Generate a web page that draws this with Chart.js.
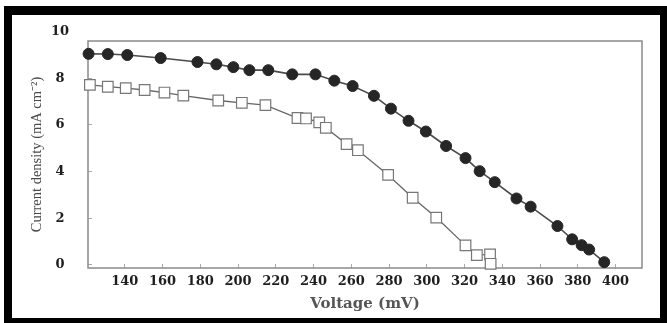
<!DOCTYPE html>
<html><head><meta charset="utf-8">
<script src="https://cdn.jsdelivr.net/npm/chart.js@4/dist/chart.umd.min.js"></script>
<style>
html,body{margin:0;padding:0;background:#fff;}
#wrap{position:relative;width:667px;height:323px;overflow:hidden;background:#fff;}
#c{position:absolute;left:0;top:0;}
#frame{position:absolute;left:4px;top:6px;width:663px;height:317px;box-sizing:border-box;border-style:solid;border-color:#000;border-width:9px 7px 5px 8px;pointer-events:none;}
</style></head><body>
<div id="wrap"><canvas id="c" width="667" height="323"></canvas><div id="frame"></div></div>
<script>
// Filled circles series
const voltageFilled = [120.8,131,141.3,159,178.5,188.5,197.5,206,216,228.7,241,251,260.7,272,281,290.3,299.5,310.2,320.5,328,336,347.5,355,369.2,377,382,386,394];
const currentFilled = [9.05,9.04,9.0,8.87,8.7,8.6,8.48,8.35,8.35,8.17,8.17,7.9,7.67,7.25,6.7,6.18,5.72,5.1,4.58,4.02,3.55,2.85,2.5,1.67,1.1,0.85,0.66,0.12];
// Open squares series
const voltageOpen = [121.5,131,140.5,150.5,161,171,189.5,202,214.5,231.5,236,243,246.5,257.5,263.5,279.5,292.5,305,320.5,326.5,333.5,333.8];
const currentOpen = [7.72,7.64,7.58,7.5,7.39,7.26,7.05,6.95,6.85,6.3,6.28,6.11,5.88,5.18,4.92,3.86,2.88,2.03,0.84,0.42,0.45,0.05];
// Tick labels
const xTicks = [140,160,180,200,220,240,260,280,300,320,340,360,380,400];
const yTicks = [0,2,4,6,8,10];

const framePlugin = {
  id: 'frameBox',
  beforeDatasetsDraw(chart) {
    const {ctx, chartArea: a} = chart;
    ctx.save();
    ctx.strokeStyle = '#8a8a8a';
    ctx.lineWidth = 1.5;
    ctx.strokeRect(a.left, a.top, a.right - a.left, a.bottom - a.top);
    ctx.restore();
  }
};

const tickFont = {family: 'DejaVu Serif', weight: 'bold', size: 13};

new Chart(document.getElementById('c'), {
  type: 'line',
  data: {
    datasets: [
      {
        label: 'filled',
        data: voltageFilled.map((x, i) => ({x: x, y: currentFilled[i]})),
        borderColor: '#4a4a4a',
        borderWidth: 1.6,
        pointStyle: 'circle',
        pointRadius: 5.5,
        pointBackgroundColor: '#262626',
        pointBorderColor: '#262626',
        pointBorderWidth: 1,
        tension: 0,
        clip: false
      },
      {
        label: 'open',
        data: voltageOpen.map((x, i) => ({x: x, y: currentOpen[i]})),
        borderColor: '#666',
        borderWidth: 1.3,
        pointStyle: 'rect',
        pointRadius: 7.5,
        pointBackgroundColor: '#fff',
        pointBorderColor: '#777',
        pointBorderWidth: 1.2,
        tension: 0,
        clip: false
      }
    ]
  },
  options: {
    responsive: false,
    animation: false,
    devicePixelRatio: 1,
    layout: {padding: {left: 28, top: 41, right: 25, bottom: 10}},
    plugins: {legend: {display: false}, tooltip: {enabled: false}},
    scales: {
      x: {
        type: 'linear',
        min: 120.5,
        max: 414,
        afterBuildTicks: s => { s.ticks = xTicks.map(v => ({value: v})); },
        afterFit: s => { s.height = 45; },
        border: {display: false},
        grid: {drawOnChartArea: false, drawTicks: true, tickLength: -4, color: '#aaa'},
        ticks: {autoSkip: false, maxRotation: 0, padding: 10, color: '#1e1e1e', font: tickFont, callback: v => String(v)},
        title: {display: true, text: 'Voltage (mV)', color: '#555', font: {family: 'DejaVu Serif', weight: 'bold', size: 15}, padding: 0}
      },
      y: {
        type: 'linear',
        min: -0.13,
        max: 9.6,
        afterBuildTicks: s => { s.ticks = yTicks.map(v => ({value: v})); },
        afterFit: s => { s.width = 60; },
        border: {display: false},
        grid: {drawOnChartArea: false, drawTicks: true, tickLength: -4,
               color: c => (c.tick && c.tick.value > 9.6) ? 'rgba(0,0,0,0)' : '#aaa'},
        ticks: {autoSkip: false, crossAlign: 'center', padding: 23, color: '#1e1e1e', font: tickFont, callback: v => String(v)},
        title: {display: true, text: 'Current density (mA cm⁻²)', color: '#4a4a4a', font: {family: 'Liberation Serif', size: 14.5}, padding: 0}
      }
    }
  },
  plugins: [framePlugin]
});
</script>
</body></html>
